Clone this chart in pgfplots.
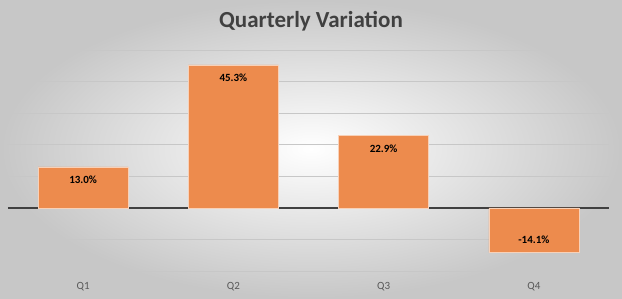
\documentclass[border=0pt]{standalone}
\usepackage{pgfplots}
\pgfplotsset{compat=1.18}
\usepackage{fontspec}
\setmainfont{Carlito}
\definecolor{barorange}{RGB}{237,139,77}
\begin{document}
\begin{tikzpicture}[x=1pt,y=1pt]
\shade[inner color=white, outer color=black!22] (0,0) rectangle (622,298);
\node[font=\bfseries\fontsize{23}{26}\selectfont, text=black!75] at (311,277) {Quarterly Variation};
\begin{axis}[at={(8pt,27pt)}, anchor=south west, scale only axis,
  width=601pt, height=221pt,
  xmin=-0.5, xmax=3.5, ymin=-20, ymax=50,
  ytick={-20,-10,...,50}, yticklabels={},
  ymajorgrids, grid style={black!22, line width=0.8pt},
  extra y ticks={0}, extra y tick labels={},
  extra y tick style={grid style={black!75, line width=1.5pt}, major tick length=0pt},
  axis line style={draw=none}, major tick length=0pt,
  xtick={0,1,2,3}, xticklabels={Q1,Q2,Q3,Q4},
  xticklabel style={font=\fontsize{11}{13}\selectfont, text=black!65, yshift=-8pt},
  clip=false]
\addplot[ybar, bar width=90pt, fill=barorange, draw=white!60!barorange, line width=0.6pt,
  point meta=explicit symbolic,
  visualization depends on={rawy \as \rawy},
  nodes near coords,
  every node near coord/.append style={font=\bfseries\fontsize{11}{13}\selectfont, text=black, anchor=center, yshift={\rawy<0 ? 13 : -13}}]
  coordinates {(0,13.0) [13.0\%] (1,45.3) [45.3\%] (2,22.9) [22.9\%] (3,-14.1) [-14.1\%]};
\end{axis}
\end{tikzpicture}
\end{document}
